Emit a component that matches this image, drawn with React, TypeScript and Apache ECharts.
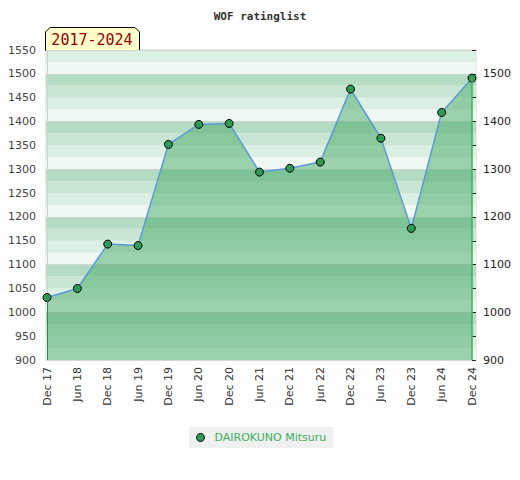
import React, { useEffect, useRef } from "react";
import * as echarts from "echarts";

const categories = [
  "Dec 17", "Jun 18", "Dec 18", "Jun 19", "Dec 19", "Jun 20", "Dec 20", "Jun 21",
  "Dec 21", "Jun 22", "Dec 22", "Jun 23", "Dec 23", "Jun 24", "Dec 24",
];
const ratings = [1031, 1050, 1143, 1140, 1352, 1394, 1396, 1294, 1302, 1315, 1468, 1365, 1176, 1419, 1491];
const seriesName = "DAIROKUNO Mitsuru";
const titleText = "WOF ratinglist";
const periodText = "2017-2024";
const yMin = 900;
const yMax = 1550;
const bandColors = ["#f0f8f3", "#dcefe3", "#c8e6d3", "#b3dcc3"];

export default function App() {
  const ref = useRef<HTMLDivElement>(null);
  useEffect(() => {
    document.body.style.margin = "0";
    if (!ref.current) return;
    const chart = echarts.init(ref.current, null, { renderer: "svg" });
    const font = "DejaVu Sans";
    const last = categories.length - 1;
    chart.setOption({
      animation: false,
      title: {
        text: titleText,
        left: "center",
        top: 6,
        textStyle: { fontFamily: "DejaVu Sans Mono", fontSize: 11, fontWeight: "bold", color: "#333" },
      },
      grid: [
        { left: 46, right: 44, top: 50, bottom: 120, show: true, borderColor: "#d6d6d6", borderWidth: 1, backgroundColor: "transparent" },
        { left: 47, right: 48, top: 50, bottom: 120 },
      ],
      xAxis: [
        { type: "value", gridIndex: 0, show: true, axisLine: { show: false }, axisTick: { show: false }, axisLabel: { show: false }, splitLine: { show: false } },
        {
          type: "category",
          gridIndex: 1,
          data: categories,
          boundaryGap: false,
          axisLine: { show: true, lineStyle: { color: "#d6d6d6" } },
          axisTick: { show: false },
          axisLabel: { rotate: 90, margin: 7, fontFamily: font, fontSize: 11, color: "#333", interval: 0 },
          splitLine: { show: false },
        },
      ],
      yAxis: [
        {
          type: "value", gridIndex: 0, min: yMin, max: yMax, interval: 25,
          axisLine: { show: false }, axisTick: { show: false }, axisLabel: { show: false },
          splitLine: { show: false },
          splitArea: { show: true, areaStyle: { color: bandColors } },
        },
        {
          type: "value", gridIndex: 0, min: yMin, max: yMax, interval: 100,
          axisLine: { show: false }, axisTick: { show: false }, axisLabel: { show: false },
          splitLine: { show: true, lineStyle: { color: "#d4d4d4", width: 1 } },
        },
        {
          type: "value", gridIndex: 1, min: yMin, max: yMax, interval: 50, position: "left",
          axisLine: { show: true, lineStyle: { color: "#d0d0d0" } },
          axisTick: { show: false },
          axisLabel: { margin: 11, fontFamily: font, fontSize: 11, color: "#444", formatter: (v: number) => String(v) },
          splitLine: { show: false },
        },
        {
          type: "value", gridIndex: 1, min: yMin, max: yMax, interval: 50, position: "right",
          axisLine: { show: false },
          axisTick: { show: true, length: 4, lineStyle: { color: "#222" } },
          axisLabel: {
            margin: 11, fontFamily: font, fontSize: 11, color: "#222",
            formatter: (v: number) => (v % 100 === 0 ? String(v) : ""),
          },
          splitLine: { show: false },
        },
      ],
      legend: {
        data: [seriesName],
        left: 189,
        top: 427,
        padding: [5, 7, 5, 7],
        backgroundColor: "#f0f0f0",
        icon: "circle",
        itemWidth: 8,
        itemHeight: 8,
        itemStyle: { borderColor: "#000", borderWidth: 1 },
        textStyle: { fontFamily: font, fontSize: 11, color: "#3cae5f", padding: [0, 0, 0, 5] },
      },
      graphic: [
        {
          type: "group",
          left: 45,
          top: 27,
          children: [
            {
              type: "polygon",
              shape: { points: [[0.5, 23.5], [0.5, 5], [5, 0.5], [90, 0.5], [94.5, 5], [94.5, 23.5]] },
              style: { fill: "#ffffcc", stroke: "#000", lineWidth: 1 },
            },
            {
              type: "text",
              x: 47,
              y: 13,
              style: {
                text: periodText, fill: "#990000", font: "15px 'DejaVu Sans Mono'",
                textAlign: "center", textVerticalAlign: "middle",
              },
            },
          ],
        },
      ],
      series: [
        {
          name: seriesName,
          type: "line",
          xAxisIndex: 1,
          yAxisIndex: 2,
          data: ratings,
          symbol: "circle",
          symbolSize: 8,
          itemStyle: { color: "#2f9a55", borderColor: "#000", borderWidth: 1 },
          lineStyle: { color: "#5b9bd5", width: 1.5 },
          areaStyle: { color: "rgba(77,172,108,0.52)", opacity: 1, origin: "start" },
          markLine: {
            silent: true,
            symbol: "none",
            label: { show: false },
            data: [
              [
                { coord: [categories[0], yMin], lineStyle: { color: "#2d8a4a", width: 1, type: "solid" } },
                { coord: [categories[0], ratings[0]] },
              ],
              [
                { coord: [categories[last], yMin], lineStyle: { color: "#3cb35c", width: 1.5, type: "solid" } },
                { coord: [categories[last], ratings[last]] },
              ],
            ],
          },
          z: 3,
        },
      ],
    });
    return () => chart.dispose();
  }, []);
  return <div ref={ref} style={{ width: 520, height: 480 }} />;
}
